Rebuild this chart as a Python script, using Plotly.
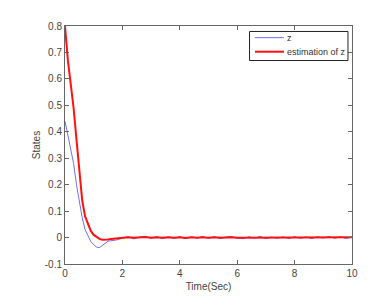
import plotly.graph_objects as go

t = [0, 0.1, 0.2, 0.3, 0.4, 0.5, 0.6, 0.7, 0.8, 0.9, 1.0, 1.1, 1.2, 1.3, 1.4, 1.5, 1.6, 1.7, 1.8, 1.9, 2.0,
     2.2, 2.4, 2.6, 2.8, 3.0, 3.2, 3.4, 3.6, 3.8, 4.0, 4.2, 4.4, 4.6, 4.8, 5.0, 5.2, 5.4, 5.6, 5.8, 6.0,
     6.2, 6.4, 6.6, 6.8, 7.0, 7.2, 7.4, 7.6, 7.8, 8.0, 8.2, 8.4, 8.6, 8.8, 9.0, 9.2, 9.4, 9.6, 9.8, 10.0]

z = [0.44, 0.39, 0.34, 0.28, 0.20, 0.13, 0.075, 0.03, 0.005, -0.015, -0.027, -0.036, -0.038, -0.031, -0.021,
     -0.014, -0.012, -0.011, -0.009, -0.006, -0.002,
     0.003, -0.005, 0.002, 0.004, -0.003, 0.003, -0.004, 0.002, -0.003, 0.003, -0.004, 0.002, -0.002, 0.004,
     -0.003, 0.003, -0.004, 0.002, 0.004, -0.003, -0.004, 0.003, -0.002, 0.004, -0.004, 0.002, -0.003, 0.003,
     -0.004, 0.004, -0.003, 0.002, -0.004, 0.003, -0.002, 0.004, -0.003, 0.003, -0.004, 0.002]

z_est = [0.80, 0.67, 0.58, 0.49, 0.37, 0.24, 0.14, 0.08, 0.05, 0.025, 0.01, 0.002, -0.005, -0.008, -0.008,
         -0.007, -0.005, -0.004, -0.003, -0.002, 0.0,
         0.001, -0.001, 0.001, 0.002, -0.001, 0.001, -0.001, 0.001, -0.001, 0.001, -0.002, 0.001, -0.001, 0.001,
         -0.001, 0.001, -0.001, 0.001, 0.001, -0.001, -0.001, 0.001, -0.001, 0.001, -0.001, 0.001, -0.001, 0.001,
         -0.001, 0.001, -0.001, 0.001, -0.001, 0.001, -0.001, 0.001, -0.001, 0.001, -0.001, 0.001]

series_names = ["z", "estimation of z"]
series_colors = ["#6f6ff0", "#ff1010"]
series_widths = [1, 2]

x_ticks = [0, 2, 4, 6, 8, 10]
y_ticks = [-0.1, 0, 0.1, 0.2, 0.3, 0.4, 0.5, 0.6, 0.7, 0.8]
y_labels = ["-0.1", "0", "0.1", "0.2", "0.3", "0.4", "0.5", "0.6", "0.7", "0.8"]

FONT = "Liberation Sans, Arial"

fig = go.Figure()
for ys, name, col, w in zip([z, z_est], series_names, series_colors, series_widths):
    fig.add_trace(go.Scatter(x=t, y=ys, mode="lines", name=name,
                             line=dict(color=col, width=w), showlegend=False))

axis_common = dict(showgrid=False, zeroline=False, showline=True, linecolor="#666666", linewidth=1,
                   mirror="allticks", ticks="inside", ticklen=4, tickcolor="#666666",
                   tickfont=dict(family=FONT, size=10, color="#444444"))

# manual legend (MATLAB-style compact box)
shapes = [dict(type="rect", xref="paper", yref="paper", x0=0.643, x1=0.986, y0=0.855, y1=0.977,
               line=dict(color="#222222", width=1), fillcolor="white", layer="above")]
annotations = []
leg_y = [0.951, 0.892]
for name, col, w, ly in zip(series_names, series_colors, series_widths, leg_y):
    shapes.append(dict(type="line", xref="paper", yref="paper", x0=0.662, x1=0.763, y0=ly, y1=ly,
                       line=dict(color=col, width=w), layer="above"))
    annotations.append(dict(xref="paper", yref="paper", x=0.768, y=ly, text=name, showarrow=False,
                            xanchor="left", yanchor="middle",
                            font=dict(family=FONT, size=9, color="#333333")))

fig.update_layout(
    width=371, height=294,
    margin=dict(l=57, r=27, t=16, b=37),
    paper_bgcolor="white", plot_bgcolor="white",
    shapes=shapes, annotations=annotations,
    xaxis=dict(range=[0, 10], tickvals=x_ticks, ticktext=[str(v) for v in x_ticks],
               title=dict(text="Time(Sec)", standoff=4,
                          font=dict(family=FONT, size=10, color="#444444")),
               **axis_common),
    yaxis=dict(range=[-0.1, 0.8], tickvals=y_ticks, ticktext=y_labels,
               title=dict(text="States", standoff=2,
                          font=dict(family=FONT, size=10, color="#444444")),
               **axis_common),
)

fig.write_html("out.html")
